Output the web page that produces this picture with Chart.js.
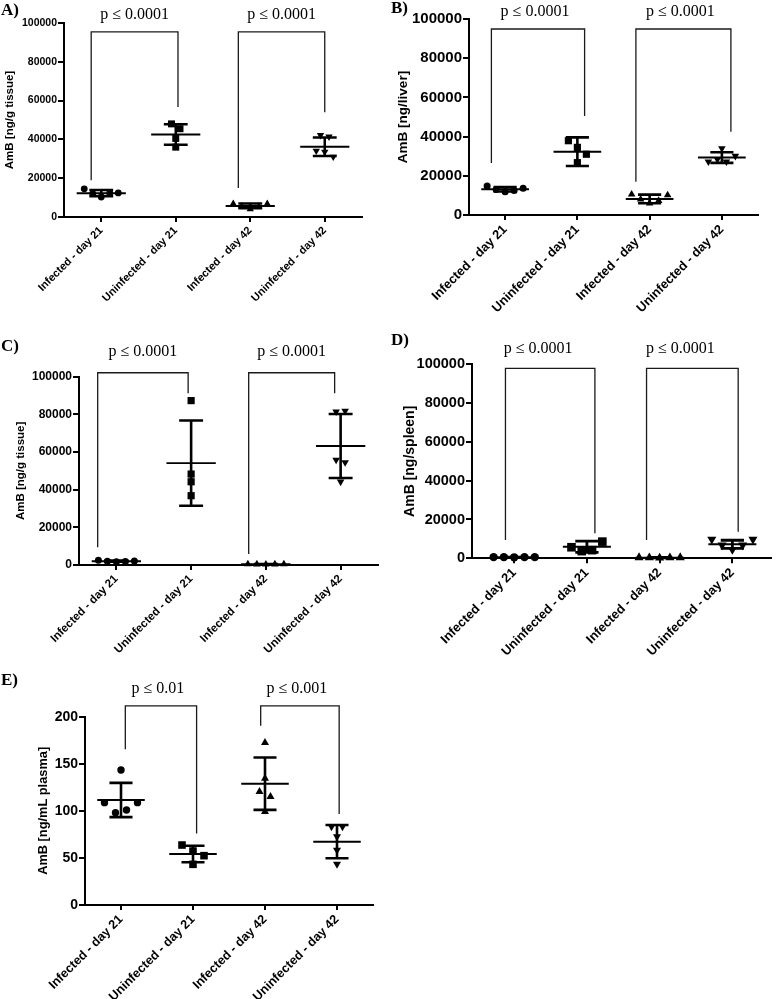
<!DOCTYPE html>
<html><head><meta charset="utf-8">
<script src="https://cdn.jsdelivr.net/npm/chart.js@4.4.1/dist/chart.umd.min.js"></script>
<style>
html,body{margin:0;padding:0;background:#fff;width:777px;height:999px;overflow:hidden;position:relative}
.panel{position:absolute}
canvas{display:block}
</style></head><body>
<div class="panel"><canvas id="cA"></canvas></div>
<div class="panel"><canvas id="cB"></canvas></div>
<div class="panel"><canvas id="cC"></canvas></div>
<div class="panel"><canvas id="cD"></canvas></div>
<div class="panel"><canvas id="cE"></canvas></div>
<script>
// ---------- shared categories ----------
const categories = ['Infected - day 21', 'Uninfected - day 21', 'Infected - day 42', 'Uninfected - day 42'];

// ---------- Panel A : AmB [ng/g tissue] ----------
const aInf21   = [14500, 12000, 10300, 12400, 12400];
const aUninf21 = [48000, 45500, 40500, 36000];
const aInf42   = [6800, 5600, 4000, 5300, 6800];
const aUninf42 = [42200, 41400, 34100, 33600, 31000];
const aMean    = [12300, 42500, 5700, 36200];
const aSD      = [1600, 5300, 1200, 4800];
const aBracketX = [[-0.135, 1.03], [1.84, 3.0]];
const aBracketY = [[19000, 95400, 56700], [15000, 95400, 54000]];
const aP = ['p \u2264 0.0001', 'p \u2264 0.0001'];

// ---------- Panel B : AmB [ng/liver] ----------
const bInf21   = [14800, 13000, 11800, 12500, 13600];
const bUninf21 = [37900, 34500, 31000, 26700];
const bInf42   = [10500, 8000, 6000, 7300, 10200];
const bUninf42 = [34000, 27200, 28400, 27200, 30100];
const bMean    = [13100, 32300, 8200, 29300];
const bSD      = [1100, 7300, 2200, 2700];
const bBracketX = [[-0.19, 1.1], [1.81, 3.125]];
const bBracketY = [[26500, 94900, 50500], [17000, 94900, 42500]];
const bP = ['p \u2264 0.0001', 'p \u2264 0.0001'];

// ---------- Panel C : AmB [ng/g tissue] ----------
const cInf21   = [2500, 2000, 1700, 1800, 2100];
const cUninf21 = [87300, 48300, 44200, 36800];
const cInf42   = [500, 400, 300, 400, 500];
const cUninf42 = [81400, 81800, 55800, 54500, 44200];
const cMean    = [2000, 54100, 400, 63200];
const cSD      = [300, 22600, 80, 17000];
const cBracketX = [[-0.25, 0.96], [1.77, 2.92]];
const cBracketY = [[9400, 102100, 91200], [5800, 102100, 91200]];
const cP = ['p \u2264 0.0001', 'p \u2264 0.0001'];

// ---------- Panel D : AmB [ng/spleen] ----------
const dInf21   = [600, 600, 500, 600, 600];
const dUninf21 = [5700, 3700, 4200, 8600];
const dInf42   = [400, 300, 200, 300, 400];
const dUninf42 = [9800, 6800, 4500, 6800, 9800];
const dMean    = [580, 6000, 320, 7200];
const dSD      = [60, 2900, 80, 2100];
const dBracketX = [[-0.12, 1.11], [1.82, 3.08]];
const dBracketY = [[9400, 97900, 12900], [9400, 97900, 13700]];
const dP = ['p \u2264 0.0001', 'p \u2264 0.0001'];

// ---------- Panel E : AmB [ng/mL plasma] ----------
const eInf21   = [143.4, 108.7, 98.0, 100.9, 108.7];
const eUninf21 = [63.7, 57.3, 52.4, 43.2];
const eInf42   = [172.4, 134.5, 120.4, 115.0, 99.1];
const eUninf42 = [83.2, 83.2, 72.6, 58.4, 43.5];
const eMean    = [111.5, 54.2, 128.8, 67.3];
const eSD      = [18.2, 8.8, 27.8, 17.7];
const eBracketX = [[0.06, 1.05], [1.94, 3.03]];
const eBracketY = [[165.4, 211.4, 76.0], [190.4, 211.4, 96.7]];
const eP = ['p \u2264 0.01', 'p \u2264 0.001'];

// ---------- Chart.js defaults ----------
Chart.defaults.animation = false;
Chart.defaults.events = [];
Chart.defaults.plugins.legend.display = false;
Chart.defaults.plugins.tooltip.enabled = false;
Chart.defaults.font.family = "'Liberation Sans', Arial, Helvetica, sans-serif";
Chart.defaults.font.weight = 'bold';
Chart.defaults.color = '#000';

const markerStyles = [
  {style: 'circle', k: 1.0, rot: 0},
  {style: 'rect', k: 1.45, rot: 0},
  {style: 'triangle', k: 1.25, rot: 0},
  {style: 'triangle', k: 1.25, rot: 180}
];

function swarm(vals, center, pxX, pxY, d, thr) {
  const idx = vals.map((v, i) => i).sort((a, b) => vals[a] - vals[b]);
  const rows = []; let cur = [];
  idx.forEach((i, k) => {
    if (k > 0 && (vals[i] - vals[idx[k - 1]]) * pxY >= thr) { rows.push(cur); cur = []; }
    cur.push(i);
  });
  rows.push(cur);
  const out = new Array(vals.length);
  rows.forEach(r => {
    r.sort((a, b) => a - b);
    r.forEach((i, j) => {
      const off = (j - (r.length - 1) / 2) * d;
      out[i] = {x: center + off / pxX, y: vals[i]};
    });
  });
  return out;
}

function lineDS(points, w, color) {
  return {data: points, showLine: true, spanGaps: false, borderColor: color, borderWidth: w,
    pointRadius: 0, pointHoverRadius: 0, fill: false, clip: false, tension: 0,
    borderCapStyle: 'butt', borderJoinStyle: 'miter'};
}

function build(id, D, L) {
  const cv = document.getElementById(id);
  const [bl, bt, bw, bh] = L.box;
  const [al, at, ar, ab] = L.area;
  Object.assign(cv.parentElement.style, {left: bl + 'px', top: bt + 'px', width: bw + 'px', height: bh + 'px'});
  cv.width = bw; cv.height = bh; cv.style.width = bw + 'px'; cv.style.height = bh + 'px';
  const lh = L.titleSize * 1.2;
  const padLeft = Math.max(0, L.titleX - bl - lh / 2);
  const yAxisW = al - bl - padLeft;
  const xAxisH = bt + bh - ab;
  const pxX = (ar - al) / (L.xmax - L.xmin);
  const pxY = (ab - at) / D.ymax;

  const datasets = [];
  const meanPts = [];
  D.means.forEach((m, i) => { meanPts.push({x: i - 0.33, y: m}, {x: i + 0.33, y: m}, {x: i, y: null}); });
  datasets.push(lineDS(meanPts, L.meanW, '#000'));
  const sdPts = [];
  D.means.forEach((m, i) => {
    const s = D.sds[i];
    sdPts.push({x: i, y: m - s}, {x: i, y: m + s}, {x: i, y: null});
    sdPts.push({x: i - 0.16, y: m + s}, {x: i + 0.16, y: m + s}, {x: i, y: null});
    sdPts.push({x: i - 0.16, y: m - s}, {x: i + 0.16, y: m - s}, {x: i, y: null});
  });
  datasets.push(lineDS(sdPts, L.sdW, '#000'));
  const brPts = [];
  D.bx.forEach((b, k) => {
    const y = D.by[k];
    brPts.push({x: b[0], y: y[0]}, {x: b[0], y: y[1]}, {x: b[1], y: y[1]}, {x: b[1], y: y[2]}, {x: b[1], y: null});
  });
  datasets.push(lineDS(brPts, 1.3, '#1a1a1a'));
  D.groups.forEach((vals, i) => {
    const m = markerStyles[i];
    datasets.push({
      data: swarm(vals, i, pxX, pxY, L.dotStep, L.dotR * 2 + 0.5),
      pointStyle: m.style, pointRotation: m.rot, pointRadius: L.dotR * m.k,
      pointBackgroundColor: '#000', pointBorderColor: '#000', pointBorderWidth: 0,
      showLine: false, clip: false
    });
  });

  const annot = {
    id: 'annot' + id,
    afterDraw(chart) {
      const {ctx} = chart; const xs = chart.scales.x, ys = chart.scales.y;
      ctx.save();
      ctx.fillStyle = '#000';
      ctx.font = "16px 'Liberation Serif', 'Times New Roman', serif";
      ctx.textAlign = 'center'; ctx.textBaseline = 'middle';
      D.bx.forEach((b, k) => {
        const cx = (xs.getPixelForValue(b[0]) + xs.getPixelForValue(b[1])) / 2 + L.pShift;
        const ty = ys.getPixelForValue(D.by[k][1]) - L.pGap;
        ctx.fillText(D.p[k], cx, ty);
      });
      ctx.font = "bold 17px 'Liberation Serif', 'Times New Roman', serif";
      ctx.textAlign = 'left'; ctx.textBaseline = 'alphabetic';
      ctx.fillText(D.letter, 1, L.letterY);
      ctx.restore();
    }
  };

  new Chart(cv, {
    type: 'scatter',
    data: {datasets},
    plugins: [annot],
    options: {
      responsive: false, maintainAspectRatio: false, devicePixelRatio: 1,
      layout: {padding: {left: padLeft, top: at - bt, right: bl + bw - ar, bottom: 0}},
      scales: {
        x: {
          type: 'linear', min: L.xmin, max: L.xmax,
          afterBuildTicks: ax => { ax.ticks = categories.map((c, i) => ({value: i})); },
          afterFit: s => { s.height = xAxisH; },
          ticks: {autoSkip: false, minRotation: 45, maxRotation: 45, padding: L.xPad,
            font: {size: L.xTickSize, weight: 'bold'}, color: '#000',
            callback: v => categories[v]},
          grid: {drawOnChartArea: false, drawTicks: true, tickLength: 5, color: '#000', lineWidth: 2},
          border: {display: true, color: '#000', width: 2}
        },
        y: {
          type: 'linear', min: 0, max: D.ymax,
          afterFit: s => { s.width = yAxisW; },
          ticks: {stepSize: D.ystep, padding: 1, font: {size: L.yTickSize, weight: 'bold'}, color: '#000',
            callback: v => String(v)},
          grid: {drawOnChartArea: false, drawTicks: true, tickLength: 6, color: '#000', lineWidth: 2},
          border: {display: true, color: '#000', width: 2},
          title: {display: true, text: D.title, color: '#000', padding: {top: 0, bottom: 0},
            font: {size: L.titleSize, weight: 'bold'}}
        }
      }
    }
  });
}

build('cA',
  {groups: [aInf21, aUninf21, aInf42, aUninf42], means: aMean, sds: aSD, bx: aBracketX, by: aBracketY, p: aP,
   title: 'AmB [ng/g tissue]', letter: 'A)', ymax: 100000, ystep: 20000},
  {box: [0, 0, 388, 325], area: [64, 23, 362, 217], xmin: -0.5, xmax: 3.5, titleX: 10, titleSize: 11.5,
   yTickSize: 10.5, xTickSize: 11, xPad: 2, letterY: 15, pGap: 17, pShift: 0, dotR: 3.4, dotStep: 8.5, meanW: 2, sdW: 2.5});

build('cB',
  {groups: [bInf21, bUninf21, bInf42, bUninf42], means: bMean, sds: bSD, bx: bBracketX, by: bBracketY, p: bP,
   title: 'AmB [ng/liver]', letter: 'B)', ymax: 100000, ystep: 20000},
  {box: [390, 0, 387, 328], area: [469, 19, 758, 215], xmin: -0.5, xmax: 3.5, titleX: 403, titleSize: 13.5,
   yTickSize: 15, xTickSize: 12.8, xPad: 2, letterY: 13, pGap: 17, pShift: -3, dotR: 3.5, dotStep: 9, meanW: 2, sdW: 2.6});

build('cC',
  {groups: [cInf21, cUninf21, cInf42, cUninf42], means: cMean, sds: cSD, bx: cBracketX, by: cBracketY, p: cP,
   title: 'AmB [ng/g tissue]', letter: 'C)', ymax: 100000, ystep: 20000},
  {box: [0, 330, 388, 328], area: [79, 376.7, 378, 565], xmin: -0.5, xmax: 3.5, titleX: 21, titleSize: 11.5,
   yTickSize: 12, xTickSize: 11.5, xPad: 2, letterY: 21, pGap: 20.5, pShift: 0, dotR: 3.5, dotStep: 9, meanW: 1.8, sdW: 2.6});

build('cD',
  {groups: [dInf21, dUninf21, dInf42, dUninf42], means: dMean, sds: dSD, bx: dBracketX, by: dBracketY, p: dP,
   title: 'AmB [ng/spleen]', letter: 'D)', ymax: 100000, ystep: 20000},
  {box: [390, 330, 387, 328], area: [472, 364.3, 777, 558.3], xmin: -0.58, xmax: 3.53, titleX: 410, titleSize: 14,
   yTickSize: 14.5, xTickSize: 12.8, xPad: 2, letterY: 15, pGap: 20, pShift: -12, dotR: 4.2, dotStep: 10.5, meanW: 2, sdW: 2.8});

build('cE',
  {groups: [eInf21, eUninf21, eInf42, eUninf42], means: eMean, sds: eSD, bx: eBracketX, by: eBracketY, p: eP,
   title: 'AmB [ng/mL plasma]', letter: 'E)', ymax: 200, ystep: 50},
  {box: [0, 660, 388, 339], area: [85, 716.7, 373, 905], xmin: -0.5, xmax: 3.5, titleX: 43, titleSize: 12.8,
   yTickSize: 14, xTickSize: 12.6, xPad: 2, letterY: 25, pGap: 17, pShift: -3, dotR: 3.7, dotStep: 11, meanW: 2, sdW: 2.6});
</script>
</body></html>
